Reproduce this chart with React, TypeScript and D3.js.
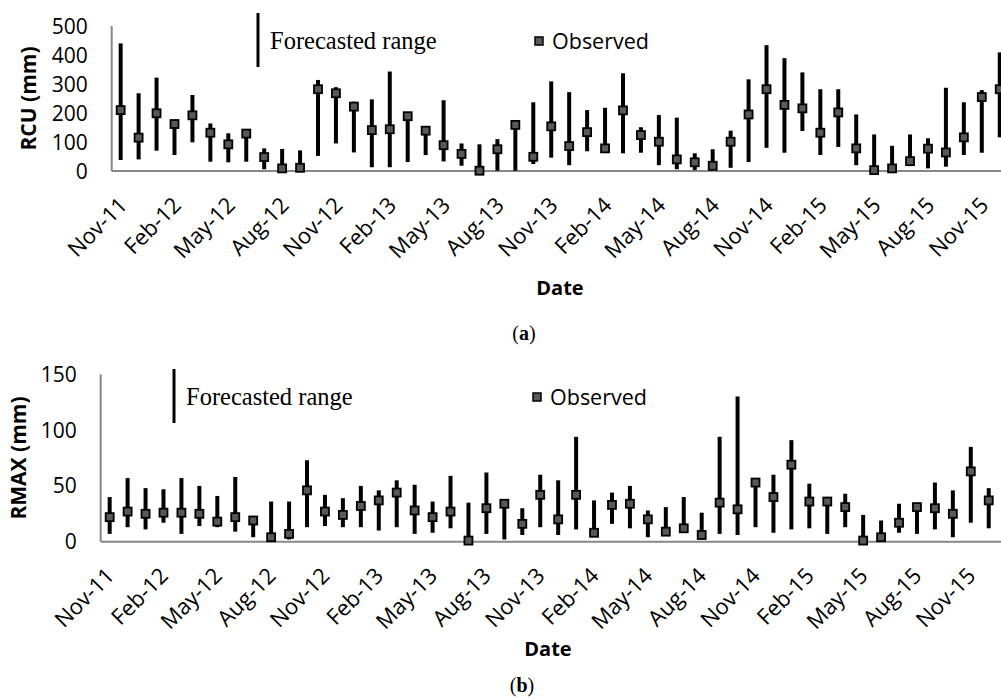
import React from 'react';
import * as d3 from 'd3';

const months = [
  'Nov-11', 'Dec-11', 'Jan-12', 'Feb-12', 'Mar-12', 'Apr-12', 'May-12', 'Jun-12', 'Jul-12', 'Aug-12',
  'Sep-12', 'Oct-12', 'Nov-12', 'Dec-12', 'Jan-13', 'Feb-13', 'Mar-13', 'Apr-13', 'May-13', 'Jun-13',
  'Jul-13', 'Aug-13', 'Sep-13', 'Oct-13', 'Nov-13', 'Dec-13', 'Jan-14', 'Feb-14', 'Mar-14', 'Apr-14',
  'May-14', 'Jun-14', 'Jul-14', 'Aug-14', 'Sep-14', 'Oct-14', 'Nov-14', 'Dec-14', 'Jan-15', 'Feb-15',
  'Mar-15', 'Apr-15', 'May-15', 'Jun-15', 'Jul-15', 'Aug-15', 'Sep-15', 'Oct-15', 'Nov-15', 'Dec-15',
];

// panel (a) RCU
const rcuObs = [
  210, 115, 199, 162, 192, 132, 92, 129, 48, 9, 11, 282, 268, 222, 141, 144, 189, 139, 89, 59,
  1, 75, 159, 49, 154, 86, 134, 78, 209, 124, 101, 40, 30, 18, 101, 195, 282, 228, 216, 132,
  202, 78, 3, 9, 34, 77, 64, 116, 255, 282,
];
const rcuHigh = [
  440, 268, 322, 176, 262, 164, 130, 136, 78, 76, 71, 314, 289, 239, 247, 343, 199, 153, 244, 95,
  92, 110, 165, 237, 309, 272, 210, 218, 337, 151, 193, 184, 61, 75, 139, 316, 434, 389, 340, 282,
  282, 195, 126, 87, 126, 113, 287, 237, 279, 409,
];
const rcuLow = [
  38, 40, 70, 55, 99, 32, 30, 32, 6, 9, 11, 52, 95, 64, 13, 13, 31, 55, 33, 18,
  1, 1, 1, 24, 46, 20, 68, 72, 61, 63, 20, 6, 3, 18, 11, 31, 80, 63, 138, 55,
  83, 20, 3, 9, 17, 9, 15, 55, 63, 116,
];

// panel (b) RMAX
const rmaxObs = [
  22, 27, 25, 26, 26, 25, 18, 22, 19, 4, 7, 46, 27, 24, 32, 37, 44, 28, 22, 27,
  1, 30, 34, 16, 42, 20, 42, 8, 33, 34, 20, 9, 12, 6, 35, 29, 53, 40, 69, 36,
  36, 31, 1, 4, 17, 31, 30, 25, 63, 37,
];
const rmaxHigh = [
  40, 57, 48, 47, 57, 50, 41, 58, 22, 36, 36, 73, 42, 39, 50, 46, 55, 51, 36, 59,
  35, 62, 35, 30, 60, 55, 94, 37, 44, 50, 28, 31, 40, 26, 94, 130, 56, 60, 91, 52,
  38, 43, 24, 19, 34, 33, 53, 46, 85, 48,
];
const rmaxLow = [
  7, 13, 11, 17, 7, 14, 13, 9, 4, 4, 2, 13, 14, 13, 13, 10, 13, 7, 8, 12,
  1, 7, 2, 6, 13, 6, 11, 8, 16, 12, 4, 9, 12, 6, 7, 6, 13, 8, 11, 12,
  7, 13, 1, 4, 8, 7, 11, 4, 17, 12,
];

const yTicksA = [0, 100, 200, 300, 400, 500];
const yTicksB = [0, 50, 100, 150];

const sans = "'Open Sans', 'Noto Sans', sans-serif";
const serif = "'Liberation Serif', 'DejaVu Serif', serif";

interface PanelProps {
  obs: number[];
  high: number[];
  low: number[];
  ticks: number[];
  yMax: number;
  left: number;
  top: number;
  bottom: number;
  yTitle: string;
  titleX: number;
  labelDx: number;
  legendLineX: number;
  legendObsX: number;
  legendY: number;
  dateX: number;
  dateY: number;
  caption: string;
  captionX: number;
  captionY: number;
}

const Panel: React.FC<PanelProps> = (p) => {
  const band = 17.94;
  const x = d3
    .scaleBand<string>()
    .domain(months)
    .range([p.left, p.left + band * months.length])
    .padding(0);
  const y = d3.scaleLinear().domain([0, p.yMax]).range([p.bottom, p.top]);
  const cx = (m: string) => (x(m) as number) + x.bandwidth() / 2;
  const sq = 8;

  return (
    <g>
      {/* axes */}
      <line x1={p.left} x2={1001} y1={p.bottom} y2={p.bottom} stroke="#878787" strokeWidth={2} />
      <line x1={p.left} x2={p.left} y1={p.bottom} y2={p.top} stroke="#878787" strokeWidth={2} />
      {p.ticks.map((t) => (
        <text key={t} x={p.left - 24} y={y(t)} dy="0.36em" textAnchor="end" fontFamily={sans} fontSize={21} fill="#000">
          {t}
        </text>
      ))}
      <text
        transform={`translate(${p.titleX},${(p.top + p.bottom) / 2}) rotate(-90)`}
        textAnchor="middle"
        fontFamily={sans}
        fontWeight="bold"
        fontSize={21}
      >
        {p.yTitle}
      </text>
      {months.map((m, i) =>
        i % 3 === 0 ? (
          <text
            key={m}
            transform={`translate(${cx(m) + p.labelDx},${p.bottom + 35.5}) rotate(-45)`}
            textAnchor="end"
            fontFamily={sans}
            fontSize={22}
          >
            {m}
          </text>
        ) : null,
      )}
      {/* forecast ranges */}
      {months.map((m, i) => (
        <line key={'r' + m} x1={cx(m)} x2={cx(m)} y1={y(p.low[i])} y2={y(p.high[i])} stroke="#000" strokeWidth={4} />
      ))}
      {/* observed */}
      {months.map((m, i) => (
        <rect
          key={'o' + m}
          x={cx(m) - sq / 2}
          y={y(p.obs[i]) - sq / 2}
          width={sq}
          height={sq}
          fill="#595959"
          stroke="#000"
          strokeWidth={1.8}
        />
      ))}
      {/* legend */}
      <line x1={p.legendLineX} x2={p.legendLineX} y1={p.legendY - 28} y2={p.legendY + 26} stroke="#000" strokeWidth={3} />
      <text x={p.legendLineX + 12} y={p.legendY + 8} fontFamily={serif} fontSize={24.5}>
        Forecasted range
      </text>
      <rect x={p.legendObsX - 4} y={p.legendY - 4} width={8} height={8} fill="#595959" stroke="#000" strokeWidth={1.5} />
      <text x={p.legendObsX + 13} y={p.legendY + 8} fontFamily={sans} fontSize={21.5}>
        Observed
      </text>
      <text x={p.dateX} y={p.dateY} textAnchor="middle" fontFamily={sans} fontWeight="bold" fontSize={20}>
        Date
      </text>
      <text x={p.captionX} y={p.captionY} textAnchor="middle" fontFamily={serif} fontSize={20}>
        (<tspan fontWeight="bold">{p.caption}</tspan>)
      </text>
    </g>
  );
};

const App: React.FC = () => {
  return (
    <svg width={1001} height={700} style={{ position: 'absolute', left: 0, top: 0, background: '#fff' }}>
      <Panel
        obs={rcuObs}
        high={rcuHigh}
        low={rcuLow}
        ticks={yTicksA}
        yMax={500}
        left={111.7}
        top={26}
        bottom={171}
        yTitle="RCU (mm)"
        titleX={36}
        labelDx={8}
        legendLineX={258}
        legendObsX={539}
        legendY={41}
        dateX={560}
        dateY={295}
        caption="a"
        captionX={524}
        captionY={340}
      />
      <Panel
        obs={rmaxObs}
        high={rmaxHigh}
        low={rmaxLow}
        ticks={yTicksB}
        yMax={150}
        left={100.7}
        top={374.3}
        bottom={541.7}
        yTitle="RMAX (mm)"
        titleX={26}
        labelDx={6}
        legendLineX={174}
        legendObsX={537}
        legendY={397}
        dateX={548}
        dateY={656}
        caption="b"
        captionX={522}
        captionY={692}
      />
    </svg>
  );
};

export default App;
